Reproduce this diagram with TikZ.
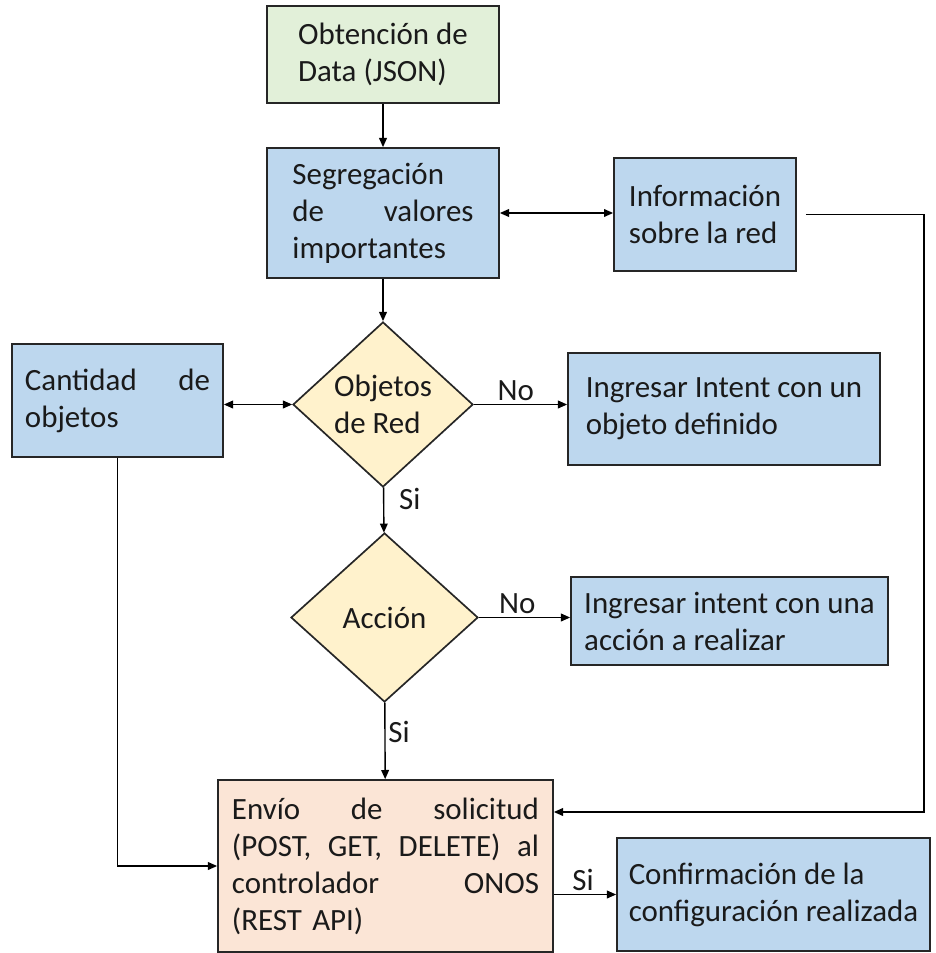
\documentclass[tikz,border=0pt]{standalone}
\usepackage{fontspec}
\setmainfont{Carlito}
\usetikzlibrary{shapes.geometric, arrows.meta}
\definecolor{verde}{HTML}{E2F0D9}
\definecolor{azul}{HTML}{BDD7EE}
\definecolor{amarillo}{HTML}{FFF2CC}
\definecolor{salmon}{HTML}{FBE5D6}
\definecolor{borde}{HTML}{262626}
\definecolor{texto}{HTML}{1A1A1A}

\begin{document}
\begin{tikzpicture}[x=0.025cm, y=-0.025cm,
  caja/.style={draw=borde, line width=1.2pt, fill=azul, align=left, inner sep=2pt, text=texto, font=\fontsize{22}{26.3}\selectfont},
  decision/.style={diamond, draw=borde, line width=1.2pt, fill=amarillo, align=left, inner sep=1pt, text=texto, font=\fontsize{22}{26.3}\selectfont},
  lbl/.style={inner sep=2pt, text=texto, font=\fontsize{22}{26.3}\selectfont},
  >={Triangle[length=6.5pt,width=5.5pt]}, line width=1pt]
  \useasboundingbox (0,0) rectangle (935,953);
  \node[caja, fill=verde, minimum width=5.8cm, minimum height=2.425cm] (obt) at (383,54.5) {Obtención de\\Data (JSON)};
  \node[caja, text width=4.525cm, minimum width=5.8cm, minimum height=3.25cm] (seg) at (383,213) {Segregación\\de\hfill valores\\importantes};
  \node[caja, minimum width=4.55cm, minimum height=2.825cm] (info) at (705,214.5) {Información\\sobre la red};
  \node[decision, minimum width=4.5cm, minimum height=4.125cm] (objred) at (383,404.5) {Objetos\\de Red};
  \node[caja, text width=4.625cm, minimum width=5.275cm, minimum height=2.825cm] (cant) at (117.5,400.5) {Cantidad\hfill de\\objetos};
  \node[caja, minimum width=7.8cm, minimum height=2.8cm] (ing1) at (724,409) {Ingresar Intent con un\\objeto definido};
  \node[decision, minimum width=4.675cm, minimum height=4.225cm] (accion) at (384.5,617.5) {Acción};
  \node[caja, minimum width=7.925cm, minimum height=2.2cm] (ing2) at (729.5,621) {Ingresar intent con una\\acción a realizar};
  \node[caja, fill=salmon, text width=7.675cm, minimum width=8.375cm, minimum height=4.3cm] (envio) at (385.5,866) {Envío\hfill de\hfill solicitud\\(POST,\hfill GET,\hfill DELETE)\hfill al\\controlador\hfill ONOS\\(REST API)};
  \node[caja, minimum width=7.825cm, minimum height=2.825cm] (conf) at (773.5,894.5) {Confirmación de la\\configuración realizada};
  \coordinate (bend) at (924,812);
  \draw[->] (obt) -- (seg);
  \draw[<->] (seg.east) -- (seg.east -| info.west);
  \draw[->] (seg) -- (objred);
  \draw[<->] (objred.west -| cant.east) -- (objred.west);
  \draw[->] (objred.east) -- node[lbl, above, pos=0.45] {No} (objred.east -| ing1.west);
  \draw[->] (objred) -- node[lbl, right, pos=0.25, xshift=0.3cm] {Si} (accion);
  \draw[->] (accion.east) -- node[lbl, above, pos=0.42] {No} (accion.east -| ing2.west);
  \draw[->] (accion) -- node[lbl, right, pos=0.38] {Si} (envio);
  \draw[->] (cant.south) |- (envio.west);
  \draw[->] ([xshift=0.225cm]info.east) -| (bend) -- (bend -| envio.east);
  \draw[->] (conf.west -| envio.east) -- node[lbl, above, pos=0.47] {Si} (conf.west);
\end{tikzpicture}
\end{document}
